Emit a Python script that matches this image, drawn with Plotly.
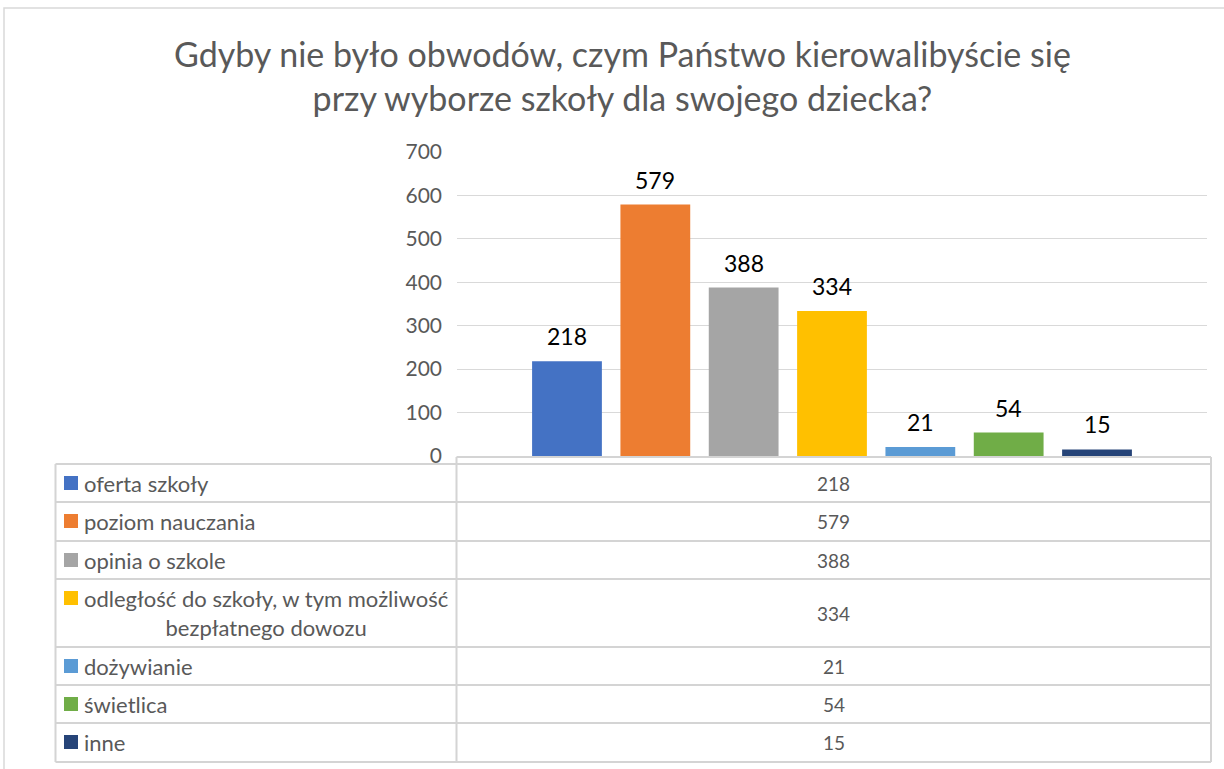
import plotly.graph_objects as go

W, H = 1224, 769

title_lines = ["Gdyby nie było obwodów, czym Państwo kierowalibyście się",
               "przy wyborze szkoły dla swojego dziecka?"]
categories = ["oferta szkoły", "poziom nauczania", "opinia o szkole",
              "odległość do szkoły, w tym możliwość<br>bezpłatnego dowozu",
              "dożywianie", "świetlica", "inne"]
values = [218, 579, 388, 334, 21, 54, 15]
colors = ["#4472C4", "#ED7D31", "#A5A5A5", "#FFC000", "#5B9BD5", "#70AD47", "#264478"]
y_ticks = [0, 100, 200, 300, 400, 500, 600, 700]

def px(x):
    return x / W

def py(y):
    return 1 - y / H

GRAY = "#595959"
LINE = "#d9d9d9"
FONT = "Lato"

fig = go.Figure()
fig.add_trace(go.Bar(
    x=list(range(len(values))), y=values,
    marker=dict(color=colors, line=dict(width=0)),
    width=0.79, showlegend=False, hoverinfo="y",
))

fig.update_layout(
    width=W, height=H,
    margin=dict(l=0, r=0, t=0, b=0, autoexpand=False),
    paper_bgcolor="white", plot_bgcolor="white",
    xaxis=dict(domain=[px(457), px(1207)], range=[-1.245, 7.245],
               visible=False, fixedrange=True, automargin=False),
    yaxis=dict(domain=[py(456), py(152)], range=[0, 700],
               tickvals=y_ticks, showgrid=True, gridcolor=LINE, gridwidth=1,
               zeroline=False, showline=False, automargin=False,
               tickfont=dict(family=FONT, size=21, color=GRAY),
               ticklabelstandoff=14, fixedrange=True),
    font=dict(family=FONT),
)

shapes = []
shapes.append(dict(type="rect", xref="paper", yref="paper",
                   x0=px(4), x1=px(1240), y0=py(790), y1=py(8),
                   line=dict(color=LINE, width=1.5)))

row_edges = [464, 502, 541, 579, 647, 685, 723, 762]
tbl_left, tbl_mid, tbl_right = 55.5, 456.5, 1211
line_style = dict(color="#d4d4d4", width=2)
shapes.append(dict(type="line", xref="paper", yref="paper",
                   x0=px(tbl_mid), x1=px(tbl_right), y0=py(457), y1=py(457), line=line_style))
shapes.append(dict(type="line", xref="paper", yref="paper",
                   x0=px(tbl_mid), x1=px(tbl_mid), y0=py(457), y1=py(row_edges[-1]), line=line_style))
shapes.append(dict(type="line", xref="paper", yref="paper",
                   x0=px(tbl_right), x1=px(tbl_right), y0=py(457), y1=py(row_edges[-1]), line=line_style))
shapes.append(dict(type="line", xref="paper", yref="paper",
                   x0=px(tbl_left), x1=px(tbl_left), y0=py(row_edges[0]), y1=py(row_edges[-1]), line=line_style))
for e in row_edges:
    shapes.append(dict(type="line", xref="paper", yref="paper",
                       x0=px(tbl_left), x1=px(tbl_right), y0=py(e), y1=py(e), line=line_style))

annotations = []
for i, val in enumerate(values):
    annotations.append(dict(x=i, y=val, xref="x", yref="y", text=str(val),
                            showarrow=False, xanchor="center", yanchor="middle",
                            yshift=25, font=dict(family=FONT, size=23, color="#000000")))

for i, (cat, val, col) in enumerate(zip(categories, values, colors)):
    top, bot = row_edges[i], row_edges[i + 1]
    mid = (top + bot) / 2
    key_y = top + 19
    shapes.append(dict(type="rect", xref="paper", yref="paper",
                       x0=px(64), x1=px(78), y0=py(key_y + 7), y1=py(key_y - 7),
                       fillcolor=col, line=dict(width=0)))
    annotations.append(dict(x=px(82), y=py(mid), xref="paper", yref="paper",
                            text=cat, showarrow=False, xanchor="left", yanchor="middle",
                            align="center",
                            font=dict(family=FONT, size=22, color=GRAY)))
    annotations.append(dict(x=px((tbl_mid + tbl_right) / 2), y=py(mid), xref="paper", yref="paper",
                            text=str(val), showarrow=False, xanchor="center", yanchor="middle",
                            font=dict(family=FONT, size=19, color=GRAY)))

annotations.append(dict(x=0.5085, y=py(75), xref="paper", yref="paper",
                        text="<br>".join(title_lines), showarrow=False,
                        xanchor="center", yanchor="middle", align="center",
                        font=dict(family=FONT, size=34, color=GRAY)))

fig.update_layout(shapes=shapes, annotations=annotations)
fig.write_html("out.html", config={"displayModeBar": False},
               post_script="document.body.style.margin='0';document.body.style.overflow='hidden';")
